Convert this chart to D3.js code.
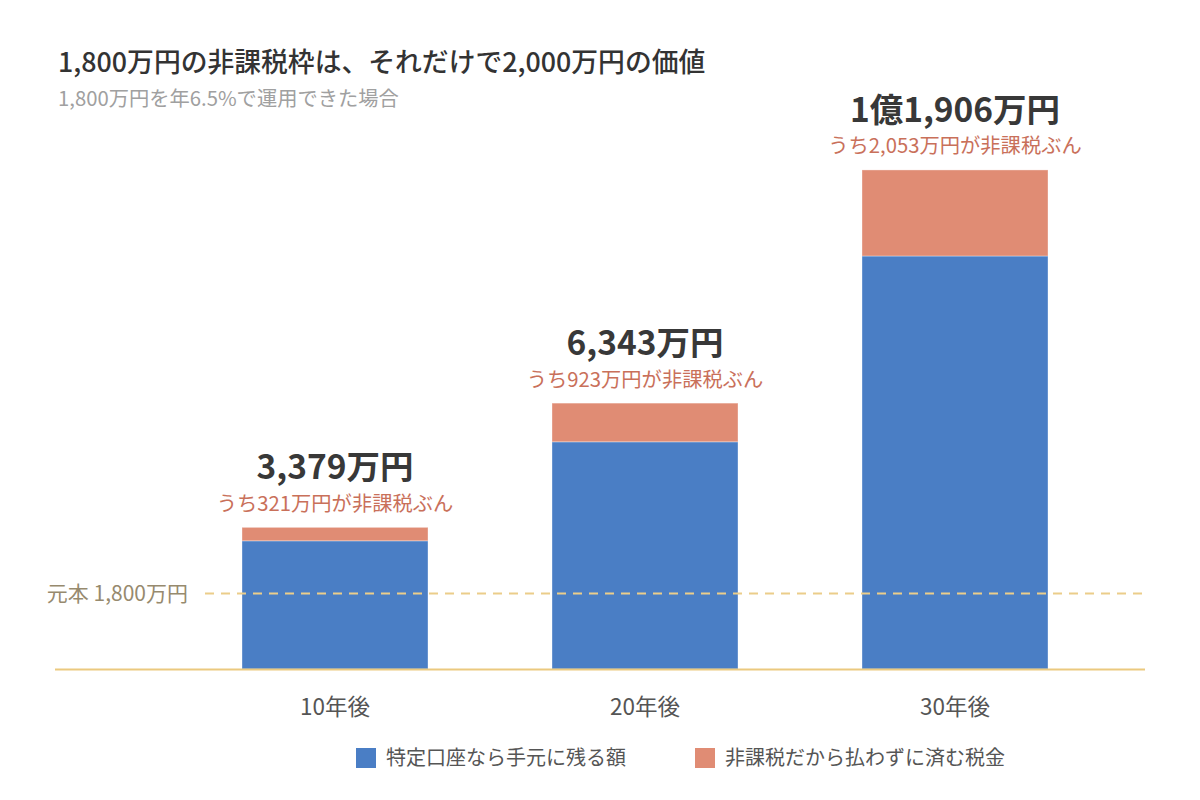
<!DOCTYPE html>
<html>
<head>
<meta charset="utf-8">
<script src="https://cdn.jsdelivr.net/npm/d3@7"></script>
<style>
  body { margin: 0; background: #fff; }
  svg { font-family: "Noto Sans CJK JP", sans-serif; }
</style>
</head>
<body>
<svg id="chart"></svg>
<script>
// data (万円)
const categories = ['10年後', '20年後', '30年後'];
const remainValues = [3058, 5420, 9853];   // 特定口座なら手元に残る額
const taxValues = [321, 923, 2053];        // 非課税だから払わずに済む税金
const totalLabels = ['3,379万円', '6,343万円', '1億1,906万円'];
const taxLabels = ['うち321万円が非課税ぶん', 'うち923万円が非課税ぶん', 'うち2,053万円が非課税ぶん'];
const principal = 1800;
const seriesNames = ['特定口座なら手元に残る額', '非課税だから払わずに済む税金'];

// drawing constants
const W = 1200, H = 800;
const COLORS = ['#4a7ec5', '#e08c74'];

const svg = d3.select('#chart')
  .attr('width', W)
  .attr('height', H);

const x = d3.scaleBand()
  .domain(categories)
  .range([180, 1110])
  .paddingInner(0.4)
  .paddingOuter(0.2);

const y = d3.scaleLinear()
  .domain([0, 12000])
  .range([669, 166]);

// stack the two series
const rows = categories.map((c, i) => ({ cat: c, remain: remainValues[i], tax: taxValues[i] }));
const stacked = d3.stack().keys(['remain', 'tax'])(rows);

// title
svg.append('text')
  .attr('x', 58).attr('y', 72)
  .attr('font-size', 26.8).attr('font-weight', 500)
  .attr('fill', '#333')
  .text('1,800万円の非課税枠は、それだけで2,000万円の価値');

svg.append('text')
  .attr('x', 58).attr('y', 106)
  .attr('font-size', 20.3)
  .attr('fill', '#a0a0a0')
  .text('1,800万円を年6.5%で運用できた場合');

// bars
stacked.forEach((layer, k) => {
  svg.append('g')
    .selectAll('rect')
    .data(layer)
    .join('rect')
    .attr('x', d => x(d.data.cat))
    .attr('y', d => y(d[1]))
    .attr('width', x.bandwidth())
    .attr('height', d => y(d[0]) - y(d[1]))
    .attr('fill', COLORS[k])
    .attr('stroke', 'rgba(255,255,255,0.35)')
    .attr('stroke-width', 1);
});

// baseline
svg.append('line')
  .attr('x1', 55).attr('x2', 1145)
  .attr('y1', y(0) + 0.5).attr('y2', y(0) + 0.5)
  .attr('stroke', '#ebc97f').attr('stroke-width', 2);

// principal line
svg.append('line')
  .attr('x1', 205).attr('x2', 1145)
  .attr('y1', y(principal)).attr('y2', y(principal))
  .attr('stroke', '#ebcd8a').attr('stroke-width', 2)
  .attr('stroke-dasharray', '9,7');

svg.append('text')
  .attr('x', 188).attr('y', y(principal))
  .attr('dy', '0.35em')
  .attr('text-anchor', 'end')
  .attr('font-size', 21)
  .attr('fill', '#978a6e')
  .text(`元本 ${d3.format(',')(principal)}万円`);

// value labels
const tops = stacked[1];
svg.append('g')
  .selectAll('text')
  .data(tops)
  .join('text')
  .attr('x', d => x(d.data.cat) + x.bandwidth() / 2)
  .attr('y', d => y(d[1]) - 48)
  .attr('text-anchor', 'middle')
  .attr('font-size', 33.5).attr('font-weight', 700)
  .attr('fill', '#383838')
  .text((d, i) => totalLabels[i]);

svg.append('g')
  .selectAll('text')
  .data(tops)
  .join('text')
  .attr('x', d => x(d.data.cat) + x.bandwidth() / 2)
  .attr('y', d => y(d[1]) - 16.5)
  .attr('text-anchor', 'middle')
  .attr('font-size', 20.3)
  .attr('fill', '#c9705a')
  .text((d, i) => taxLabels[i]);

// x axis labels
const xAxis = svg.append('g')
  .attr('transform', `translate(0,${y(0)})`)
  .call(d3.axisBottom(x).tickSize(0).tickPadding(30));
xAxis.select('.domain').remove();
xAxis.selectAll('text')
  .attr('font-family', '"Noto Sans CJK JP", sans-serif')
  .attr('font-size', 22.5)
  .attr('fill', '#555');

// legend
const legendX = [356, 695];
const legend = svg.append('g')
  .selectAll('g')
  .data(seriesNames)
  .join('g')
  .attr('transform', (d, i) => `translate(${legendX[i]},748)`);
legend.append('rect')
  .attr('width', 20).attr('height', 20)
  .attr('fill', (d, i) => COLORS[i]);
legend.append('text')
  .attr('x', 30).attr('y', 10).attr('dy', '0.35em')
  .attr('font-size', 20)
  .attr('fill', '#555')
  .text(d => d);
</script>
</body>
</html>
